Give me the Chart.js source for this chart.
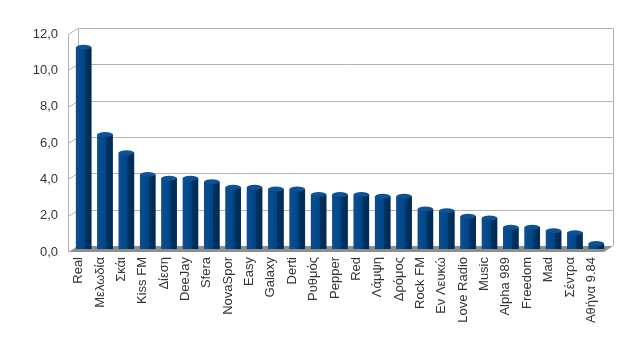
<!DOCTYPE html>
<html>
<head>
<meta charset="utf-8">
<script src="https://cdn.jsdelivr.net/npm/chart.js"></script>
<style>
    body { margin: 0; background: #fff; }
    #wrap { width: 638px; height: 352px; position: relative; }
</style>
</head>
<body>
<div id="wrap"><canvas id="stationChart"></canvas></div>
<script>
const stations = [
    'Real', 'Μελωδία', 'Σκάι', 'Kiss FM', 'Δίεση', 'DeeJay', 'Sfera', 'NovaSpor',
    'Easy', 'Galaxy', 'Derti', 'Ρυθμός', 'Pepper', 'Red', 'Λάμψη', 'Δρόμος',
    'Rock FM', 'Εν Λευκώ', 'Love Radio', 'Music', 'Alpha 989', 'Freedom', 'Mad',
    'Σέντρα', 'Αθήνα 9.84'
];
const shares = [
    11.1, 6.3, 5.3, 4.1, 3.9, 3.9, 3.7, 3.4,
    3.4, 3.3, 3.3, 3.0, 3.0, 3.0, 2.9, 2.9,
    2.2, 2.1, 1.8, 1.7, 1.2, 1.2, 1.0,
    0.9, 0.3
];
const yTicks = [0, 2, 4, 6, 8, 10, 12];

// fake 3d: back wall is shifted up/right, front edge down/left
const depthX = 5;
const depthY = 3;

const wallPlugin = {
    id: 'wall',
    beforeDatasetsDraw(chart) {
        const ctx = chart.ctx;
        const area = chart.chartArea;
        const y = chart.scales.y;
        const frontL = area.left - depthX;
        const backL = area.left + depthX;
        const backR = area.right + depthX + 1;
        const frontR = area.right - depthX + 2;
        const bottom = y.getPixelForValue(0);

        ctx.save();
        // floor
        ctx.fillStyle = '#8e8e8e';
        ctx.beginPath();
        ctx.moveTo(frontL, bottom + depthY);
        ctx.lineTo(frontR, bottom + depthY);
        ctx.lineTo(backR, bottom - depthY);
        ctx.lineTo(backL, bottom - depthY);
        ctx.closePath();
        ctx.fill();

        ctx.strokeStyle = '#b3b3b3';
        ctx.lineWidth = 1;
        yTicks.forEach(v => {
            const py = Math.round(y.getPixelForValue(v)) + 0.5;
            ctx.beginPath();
            ctx.moveTo(frontL, py + depthY);
            ctx.lineTo(backL, py - depthY);
            if (v > 0) ctx.lineTo(backR, py - depthY);
            ctx.stroke();
        });
        // wall edges
        const top = Math.round(y.getPixelForValue(12)) + 0.5;
        ctx.beginPath();
        ctx.moveTo(frontL + 0.5, top + depthY);
        ctx.lineTo(frontL + 0.5, bottom + depthY);
        ctx.moveTo(backL + 0.5, top - depthY);
        ctx.lineTo(backL + 0.5, bottom - depthY);
        ctx.moveTo(backR + 0.5, top - depthY);
        ctx.lineTo(backR + 0.5, bottom - depthY);
        ctx.stroke();
        ctx.restore();
    },
    afterDatasetsDraw(chart) {
        const ctx = chart.ctx;
        const meta = chart.getDatasetMeta(0);
        ctx.save();
        meta.data.forEach(bar => {
            const l = bar.x - bar.width / 2;
            const r = bar.x + bar.width / 2;
            const g = ctx.createLinearGradient(l, 0, r, 0);
            g.addColorStop(0, '#0b4f92');
            g.addColorStop(0.55, '#004586');
            g.addColorStop(0.62, '#00335f');
            g.addColorStop(1, '#002a52');
            ctx.fillStyle = g;
            ctx.fillRect(l, bar.y, bar.width, bar.base - bar.y);
            // rounded top
            ctx.fillStyle = '#0d5296';
            ctx.beginPath();
            ctx.ellipse(bar.x, bar.y, bar.width / 2, 2.5, 0, 0, Math.PI * 2);
            ctx.fill();
        });
        ctx.restore();
    }
};

const ctx = document.getElementById('stationChart').getContext('2d');
const stationChart = new Chart(ctx, {
    type: 'bar',
    data: {
        labels: stations,
        datasets: [{
            label: 'Share',
            data: shares,
            backgroundColor: '#004586',
            barThickness: 15
        }]
    },
    options: {
        responsive: true,
        maintainAspectRatio: false,
        animation: false,
        layout: { padding: { top: 31, right: 31, left: 0, bottom: 0 } },
        plugins: {
            legend: { display: false },
            tooltip: { enabled: false }
        },
        scales: {
            x: {
                grid: { display: false, drawTicks: false },
                border: { display: false },
                afterFit: s => { s.height = 103; },
                ticks: {
                    autoSkip: false,
                    maxRotation: 90,
                    minRotation: 90,
                    padding: 8,
                    labelOffset: -5,
                    color: '#333',
                    font: { family: 'Liberation Sans', size: 13 }
                }
            },
            y: {
                min: 0,
                max: 12,
                grid: { display: false, drawTicks: false },
                border: { display: false },
                afterFit: s => { s.width = 73; },
                afterBuildTicks: s => { s.ticks = yTicks.map(v => ({ value: v })); },
                ticks: {
                    padding: 15,
                    labelOffset: 3,
                    color: '#333',
                    font: { family: 'Liberation Sans', size: 13 },
                    callback: v => v.toFixed(1).replace('.', ',')
                }
            }
        }
    },
    plugins: [wallPlugin]
});
</script>
</body>
</html>
